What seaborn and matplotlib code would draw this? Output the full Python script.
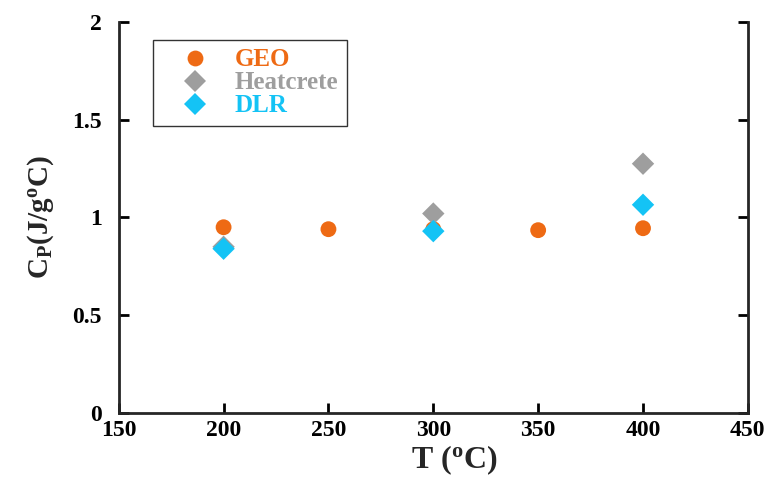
import pandas as pd
import matplotlib
matplotlib.use('Agg')
import matplotlib.pyplot as plt
import seaborn as sns

# Data
geo_t = [200, 250, 300, 350, 400]
geo_cp = [0.95, 0.94, 0.94, 0.935, 0.945]
heat_t = [200, 300, 400]
heat_cp = [0.85, 1.02, 1.275]
dlr_t = [200, 300, 400]
dlr_cp = [0.84, 0.93, 1.065]

series_names = ['GEO', 'Heatcrete', 'DLR']
colors = {'GEO': '#EE6A14', 'Heatcrete': '#9E9E9E', 'DLR': '#14C3F5'}
markers = {'GEO': 'o', 'Heatcrete': 'D', 'DLR': 'D'}

df = pd.concat([
    pd.DataFrame({'T': geo_t, 'Cp': geo_cp, 'Material': 'GEO'}),
    pd.DataFrame({'T': heat_t, 'Cp': heat_cp, 'Material': 'Heatcrete'}),
    pd.DataFrame({'T': dlr_t, 'Cp': dlr_cp, 'Material': 'DLR'}),
], ignore_index=True)

sns.set_style('ticks')
plt.rcParams['font.family'] = ['Liberation Serif', 'DejaVu Serif']
plt.rcParams['font.weight'] = 'bold'
plt.rcParams['axes.labelweight'] = 'bold'
plt.rcParams['mathtext.default'] = 'regular'

fig = plt.figure(figsize=(7.71, 4.79), dpi=100)
ax = fig.add_axes([0.154, 0.138, 0.816, 0.816])

sns.scatterplot(data=df, x='T', y='Cp', hue='Material', style='Material',
                hue_order=series_names, style_order=series_names,
                palette=colors, markers=markers, s=130, linewidth=0,
                ax=ax, zorder=3)

ax.set_xlim(150, 450)
ax.set_ylim(0, 2)
ax.set_xticks([150, 200, 250, 300, 350, 400, 450])
ax.set_yticks([0, 0.5, 1, 1.5, 2])
ax.set_yticklabels(['0', '0.5', '1', '1.5', '2'])

ax.spines['top'].set_visible(False)
for side in ['left', 'right', 'bottom']:
    ax.spines[side].set_linewidth(2)
ax.tick_params(axis='both', direction='in', length=7, width=2,
               labelsize=17, colors='black')
ax.tick_params(axis='y', right=True, pad=12)
ax.tick_params(axis='x', pad=5)

ax.set_xlabel('T ($^{o}$C)', fontsize=23, fontweight='bold', labelpad=1)
ax.xaxis.set_label_coords(0.534, -0.078)
ax.set_ylabel('C$_{P}$(J/g$^{o}$C)', fontsize=21, fontweight='bold', labelpad=12)

leg = ax.legend(loc='upper left', bbox_to_anchor=(0.055, 0.955), frameon=True,
                fancybox=False, edgecolor='black', labelcolor='markerfacecolor',
                prop={'size': 18, 'weight': 'bold'}, handletextpad=0.3,
                borderpad=0.35, labelspacing=0.0, borderaxespad=0,
                handlelength=2.6)
leg.get_frame().set_linewidth(1)
leg.set_title(None)

fig.savefig('out.png', dpi=100)
